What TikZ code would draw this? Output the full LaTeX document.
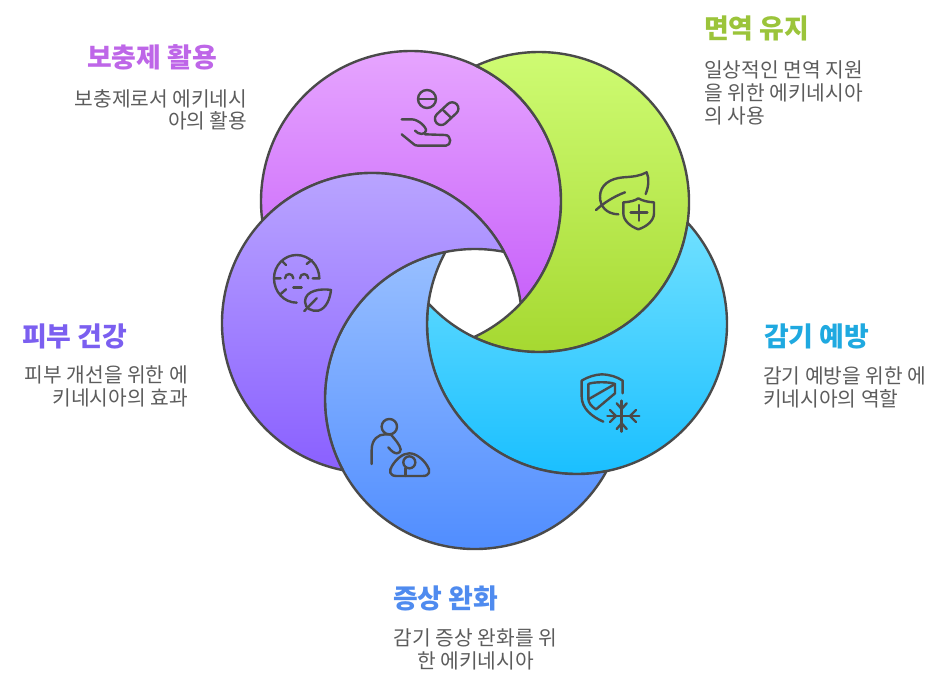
\documentclass[tikz,border=0pt]{standalone}
\usepackage{fontspec}
\setmainfont{Noto Sans CJK KR}
\usetikzlibrary{shapes.misc}
\definecolor{ink}{HTML}{4A4A4A}
\definecolor{bodytxt}{HTML}{5C5C5C}
\definecolor{HeadM}{HTML}{BE66E8}
\definecolor{HeadG}{HTML}{9BC43A}
\definecolor{HeadC}{HTML}{1FA9E0}
\definecolor{HeadB}{HTML}{4F8BEF}
\definecolor{HeadV}{HTML}{7B5FF0}
\definecolor{MTop}{HTML}{E8A9FF}\definecolor{MBot}{HTML}{C862FA}
\definecolor{GTop}{HTML}{CFFC74}\definecolor{GBot}{HTML}{A3D62C}
\definecolor{CTop}{HTML}{70E0FF}\definecolor{CBot}{HTML}{17BEFF}
\definecolor{BTop}{HTML}{98BFFF}\definecolor{BBot}{HTML}{4D8BFF}
\definecolor{VTop}{HTML}{BCA9FF}\definecolor{VBot}{HTML}{8A60FF}
\tikzset{
  petal/.style={draw=ink,line width=2.4pt,line join=round},
  iconline/.style={draw=ink,line width=2.4pt,line cap=round,line join=round},
  zoomgrid/.style={x=0.33333pt,y=-0.33333pt},
  headtxt/.style={font=\fontsize{26.9}{30}\selectfont\bfseries,inner sep=0pt},
  bodynode/.style={font=\fontsize{20.3}{22.7}\selectfont,text=bodytxt,inner sep=0pt}
}
% crescent = circle A minus circle B, radius 150
\newcommand{\crescent}[6]{%
  \pgfmathsetmacro{\angAB}{atan2(#4-#2,#3-#1)}%
  \pgfmathsetmacro{\distAB}{veclen(#3-#1,#4-#2)}%
  \pgfmathsetmacro{\halfA}{acos(\distAB/300)}%
  \pgfmathsetmacro{\startA}{\angAB+\halfA}%
  \pgfmathsetmacro{\endA}{\angAB+360-\halfA}%
  \pgfmathsetmacro{\startB}{\angAB+180+\halfA}%
  \pgfmathsetmacro{\endB}{\angAB+180-\halfA}%
  \path[petal,top color=#5,bottom color=#6]
    (#1,#2) ++(\startA:150pt) arc[start angle=\startA,end angle=\endA,radius=150pt]
    arc[start angle=\startB,end angle=\endB,radius=150pt] -- cycle;%
}
\begin{document}
\begin{tikzpicture}[x=1pt,y=1pt]
\useasboundingbox (0,0) rectangle (941,694);
% petals (y = 694 - pixel y)
\crescent{411}{493}{372}{371}{MTop}{MBot}
\crescent{539}{492}{411}{493}{GTop}{GBot}
\crescent{577}{370}{539}{492}{CTop}{CBot}
\crescent{475}{295}{577}{370}{BTop}{BBot}
\crescent{372}{371}{475}{295}{VTop}{VBot}

% pill icon
\begin{scope}[zoomgrid,shift={(380pt,624pt)}]
  \draw[iconline] (141,87) circle (9pt);
  \draw[iconline] (115,87) -- (168,87);
  \node[iconline,rounded rectangle,minimum width=27.5pt,minimum height=12.5pt,inner sep=0pt,rotate=43] (capsule) at (200,131) {};
  \draw[iconline] (189,120) -- (212,142);
  \draw[iconline] (65,148) -- (95,148) .. controls (115,148) and (140,172) .. (138,182) .. controls (136,195) and (116,195) .. (105,182);
  \draw[iconline] (65,193) -- (98,220) .. controls (103,226) and (108,227) .. (115,227) -- (198,227) .. controls (215,227) and (215,195) .. (195,195) -- (135,193);
\end{scope}
% leaf and shield icon
\begin{scope}[zoomgrid,shift={(380pt,624pt)}]
  \draw[iconline] (715,433) .. controls (680,432) and (660,410) .. (660,380) .. controls (660,345) and (690,325) .. (730,322) .. controls (760,320) and (780,318) .. (800,307) .. controls (808,325) and (806,350) .. (797,372);
  \draw[iconline] (648,420) .. controls (670,400) and (700,380) .. (735,367);
  \draw[iconline] (730,397) .. controls (750,396) and (765,392) .. (775,385) .. controls (787,392) and (802,396) .. (822,397) -- (822,430) .. controls (822,452) and (800,470) .. (775,478) .. controls (752,470) and (730,452) .. (730,430) -- cycle;
  \draw[iconline] (777,405) -- (777,452) (752,428) -- (802,428);
\end{scope}
% face and leaf icon
\begin{scope}[zoomgrid,shift={(250pt,454pt)}]
  \draw[iconline] (140,188) .. controls (102,188) and (72,155) .. (72,115) .. controls (72,77) and (102,45) .. (140,45) .. controls (178,45) and (208,77) .. (208,115);
  \draw[iconline] (95,62) -- (108,75) (170,72) -- (185,60) (72,115) -- (92,115) (188,115) -- (208,115) (92,162) -- (108,148);
  \draw[iconline] (105,115) .. controls (105,98) and (130,98) .. (130,115);
  \draw[iconline] (150,115) .. controls (150,98) and (175,98) .. (175,115);
  \draw[iconline] (130,143) -- (155,143);
  \draw[iconline] (243,150) .. controls (215,145) and (165,150) .. (165,185) .. controls (165,205) and (185,215) .. (205,212) .. controls (230,205) and (240,175) .. (243,150) -- cycle;
  \draw[iconline] (163,213) -- (200,175);
\end{scope}
% person and baby icon
\begin{scope}[zoomgrid,shift={(350pt,294pt)}]
  \draw[iconline] (118,80) circle (7.7pt);
  \draw[iconline] (65,192) -- (65,150) .. controls (65,118) and (85,103) .. (105,103) -- (122,103) .. controls (135,118) and (150,135) .. (152,148) .. controls (152,162) and (135,168) .. (115,142);
  \draw[iconline] (140,228) -- (218,228) .. controls (240,228) and (242,212) .. (232,198) .. controls (220,178) and (198,160) .. (178,160) .. controls (158,160) and (138,178) .. (126,198) .. controls (116,212) and (118,228) .. (140,228);
  \draw[iconline] (178,187) circle (6pt);
  \draw[iconline] (167,205) -- (167,228);
\end{scope}
% shield and snowflake icon
\begin{scope}[zoomgrid,shift={(560pt,334pt)}]
  \draw[iconline] (130,185) .. controls (95,170) and (65,145) .. (65,110) -- (65,62) .. controls (85,50) and (105,44) .. (125,43) .. controls (150,44) and (170,50) .. (188,62) -- (188,100);
  \draw[iconline] (108,148) .. controls (95,140) and (85,130) .. (85,115) -- (85,72) .. controls (100,65) and (150,65) .. (165,72) -- (165,100) -- (108,148);
  \draw[iconline] (85,118) -- (165,72);
  \draw[iconline] (185,122) -- (185,215) (142,168) -- (238,168);
  \draw[iconline] (170,130) -- (185,147) -- (200,130) (170,207) -- (185,190) -- (200,207);
  \draw[iconline] (150,150) -- (168,168) -- (150,186) (228,150) -- (210,168) -- (228,186);
\end{scope}

% labels
\node[headtxt,text=HeadM,anchor=center] (h1) at (152,637) {보충제 활용};
\node[bodynode,align=right,anchor=north east] (b1) at (247.5,605) {보충제로서 에키네시\\아의 활용};
\node[headtxt,text=HeadG,anchor=west] (h2) at (704,666) {면역 유지};
\node[bodynode,align=left,anchor=north west] (b2) at (704,633) {일상적인 면역 지원\\을 위한 에키네시아\\의 사용};
\node[headtxt,text=HeadC,anchor=west] (h3) at (764,358) {감기 예방};
\node[bodynode,align=left,anchor=north west] (b3) at (763,327.5) {감기 예방을 위한 에\\키네시아의 역할};
\node[headtxt,text=HeadB,anchor=west] (h4) at (393,96) {증상 완화};
\node[bodynode,align=center,anchor=north] (b4) at (475.5,65) {감기 증상 완화를 위\\한 에키네시아};
\node[headtxt,text=HeadV,anchor=west] (h5) at (22,358) {피부 건강};
\node[bodynode,align=right,anchor=north east] (b5) at (188,328) {피부 개선을 위한 에\\키네시아의 효과};
\end{tikzpicture}
\end{document}
